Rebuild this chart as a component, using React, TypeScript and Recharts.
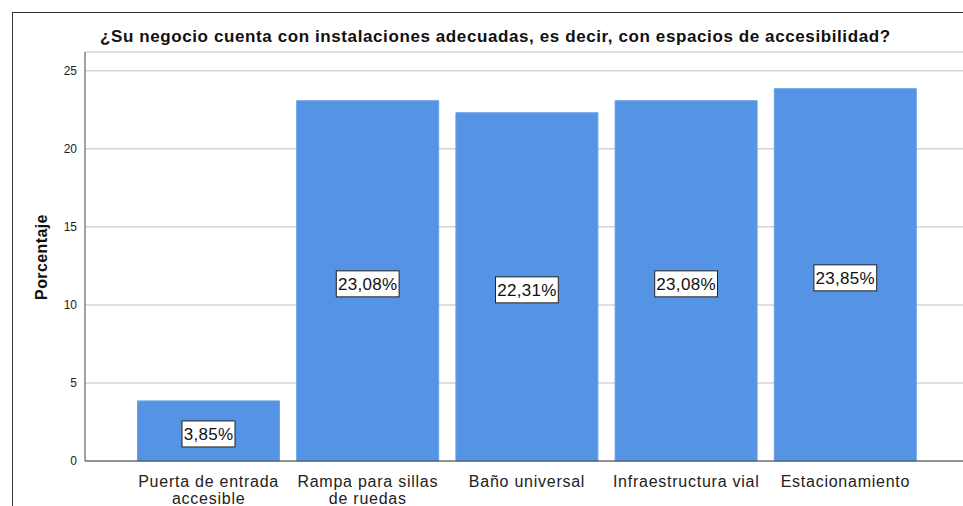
import React from 'react';
import { BarChart, Bar, XAxis, YAxis, CartesianGrid, LabelList } from 'recharts';

const categories = [
  'Puerta de entrada accesible',
  'Rampa para sillas de ruedas',
  'Baño universal',
  'Infraestructura vial',
  'Estacionamiento',
];
const categoryLines = [
  ['Puerta de entrada', 'accesible'],
  ['Rampa para sillas', 'de ruedas'],
  ['Baño universal'],
  ['Infraestructura vial'],
  ['Estacionamiento'],
];
const percentages = [3.85, 23.08, 22.31, 23.08, 23.85];
const yTicks = [0, 5, 10, 15, 20, 25];

const data = categories.map((name, i) => ({ name, value: percentages[i], idx: i }));

const FONT = 'Arial, "Liberation Sans", sans-serif';

const XTick = (props: any) => {
  const { x, y, payload } = props;
  const lines = categoryLines[payload.index] || [payload.value];
  return (
    <g transform={`translate(${x},${y})`}>
      {lines.map((line, i) => (
        <text key={i} x={0} y={18 + i * 17} textAnchor="middle" fontSize={16} letterSpacing={0.75} fill="#222" fontFamily={FONT}>
          {line}
        </text>
      ))}
    </g>
  );
};

const BoxLabel = (props: any) => {
  const { x, y, width, height, value } = props;
  const text = value.toFixed(2).replace('.', ',') + '%';
  const w = text.length * 9.8 + 4;
  const h = 26;
  const cx = x + width / 2;
  const cy = y + height / 2 + 3;
  return (
    <g>
      <rect x={cx - w / 2} y={cy - h / 2} width={w} height={h} fill="#fff" stroke="#222" strokeWidth={1} />
      <text x={cx} y={cy + 6} textAnchor="middle" fontSize={17} letterSpacing={0.3} fill="#111" fontFamily={FONT}>
        {text}
      </text>
    </g>
  );
};

export default function App() {
  return (
    <div style={{ position: 'absolute', left: 0, top: 0, width: 963, height: 506, overflow: 'hidden', background: '#fff' }}>
      <div style={{ position: 'absolute', left: 12, top: 12, width: 1000, height: 600, borderLeft: '1px solid #333', borderTop: '1px solid #333' }} />
      <div style={{ position: 'absolute', left: 100, top: 27, whiteSpace: 'nowrap', fontFamily: FONT, fontWeight: 'bold', fontSize: 17, letterSpacing: 0.6, color: '#111' }}>
        ¿Su negocio cuenta con instalaciones adecuadas, es decir, con espacios de accesibilidad?
      </div>
      <div style={{ position: 'absolute', left: 42, top: 257, transform: 'translate(-50%, -50%) rotate(-90deg)', fontFamily: FONT, fontWeight: 'bold', fontSize: 16, letterSpacing: 0.4, color: '#111', whiteSpace: 'nowrap' }}>
        Porcentaje
      </div>
      <div style={{ position: 'absolute', left: 0, top: 0 }}>
        <BarChart width={1000} height={506} data={data} margin={{ top: 52, right: 31, left: 0, bottom: 0 }} barCategoryGap={8.5}>
          <CartesianGrid horizontal vertical={false} stroke="#d4d4d4" strokeWidth={1.5} />
          <XAxis
            dataKey="name"
            height={45}
            interval={0}
            padding={{ left: 44, right: 44 }}
            tick={<XTick />}
            tickLine={false}
            axisLine={{ stroke: '#444' }}
          />
          <YAxis
            width={85}
            domain={[0, 26.2]}
            ticks={yTicks}
            tickLine={false}
            tickSize={4}
            tickMargin={4}
            axisLine={{ stroke: '#444' }}
            tick={{ fontSize: 12, fill: '#222', fontFamily: FONT }}
          />
          <Bar dataKey="value" fill="#5593e4" stroke="#6aa2e8" strokeWidth={1} isAnimationActive={false}>
            <LabelList dataKey="value" content={<BoxLabel />} />
          </Bar>
        </BarChart>
      </div>
    </div>
  );
}
